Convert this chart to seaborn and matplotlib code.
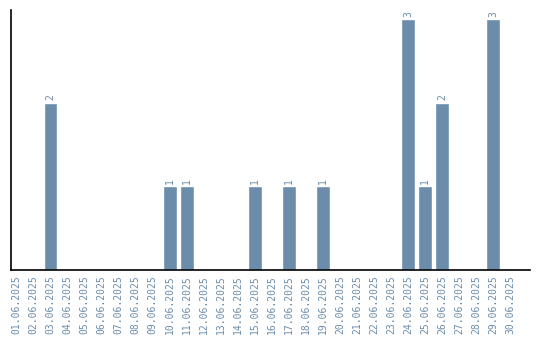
import matplotlib
matplotlib.use("Agg")
import matplotlib.pyplot as plt
import seaborn as sns
import pandas as pd

dates = [f"{d:02d}.06.2025" for d in range(1, 31)]
counts = [0, 0, 2, 0, 0, 0, 0, 0, 0, 1, 1, 0, 0, 0, 1, 0, 1, 0, 1, 0, 0, 0, 0, 3, 1, 2, 0, 0, 3, 0]

df = pd.DataFrame({"date": dates, "count": counts})
color = "#6b8cab"

sns.set_style("white")
fig = plt.figure(figsize=(5.4, 3.4), dpi=100)
ax = fig.add_axes([11/540, 70/340, 519/540, 260/340])
sns.barplot(data=df, x="date", y="count", color=color, width=0.82, saturation=1, ax=ax)
ax.set_xlim(-0.32, 30.17)
ax.set_ylim(0, 3.11)
ax.set_xlabel("")
ax.set_ylabel("")
ax.set_yticks([])
ax.tick_params(axis="x", length=0, pad=4, labelsize=7, labelcolor=color, rotation=90)
for lab in ax.get_xticklabels():
    lab.set_fontfamily("DejaVu Sans Mono")
for s in ["top", "right"]:
    ax.spines[s].set_visible(False)
for s in ["left", "bottom"]:
    ax.spines[s].set_color("black")
    ax.spines[s].set_linewidth(1.2)
for i, v in enumerate(counts):
    if v > 0:
        ax.text(i, v + 0.03, str(v), rotation=90, ha="center", va="bottom",
                fontsize=7, color=color, family="DejaVu Sans Mono")
fig.savefig("out.png", dpi=100)
